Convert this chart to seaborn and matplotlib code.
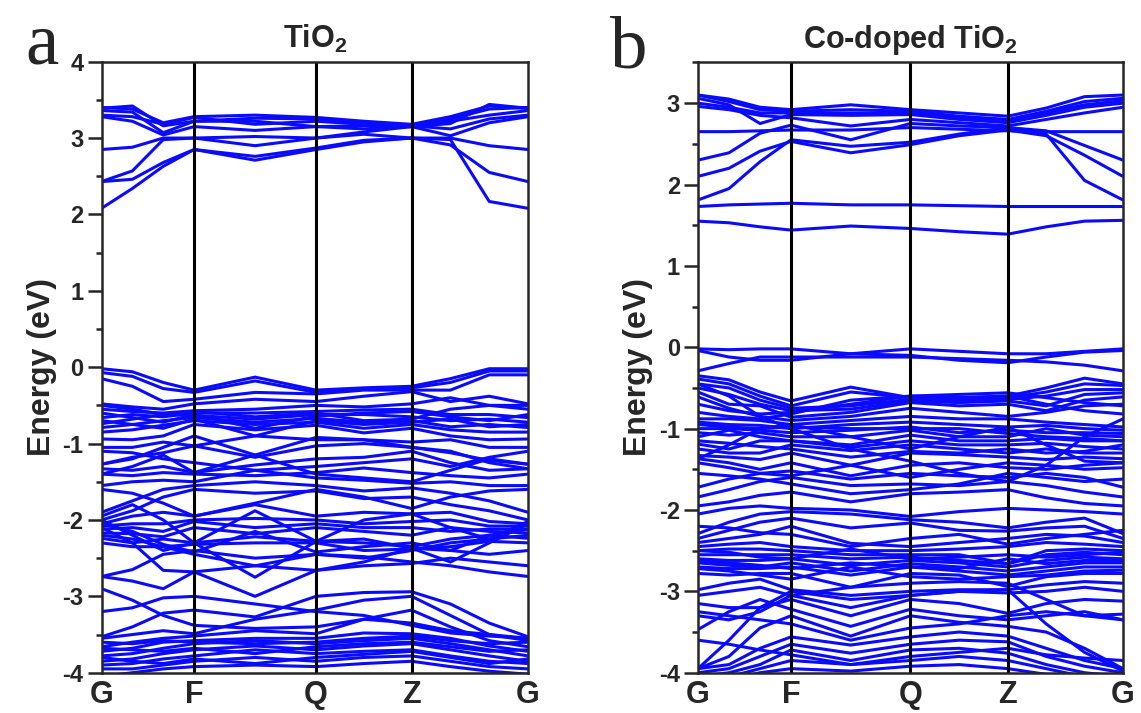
import numpy as np
import pandas as pd
import matplotlib
matplotlib.use("Agg")
import matplotlib.pyplot as plt
from matplotlib.ticker import MultipleLocator
import seaborn as sns

# ---------------- data ----------------
kpoint_labels = ["G", "F", "Q", "Z", "G"]
hs_pos_a = [0.0, 0.217, 0.503, 0.727, 1.0]
hs_pos_b = [0.0, 0.219, 0.500, 0.729, 1.0]
seg_divisions = [3, 2, 2, 3]   # sampled points per segment (G-F, F-Q, Q-Z, Z-G)

# band energies (eV) at the 11 sampled k-points: G, ., ., F, ., Q, ., Z, ., ., G
tio2_conduction = [
    [2.08, 2.34, 2.63, 2.85, 2.71, 2.85, 2.95, 3.00, 2.98, 2.17, 2.08],
    [2.43, 2.46, 2.68, 2.85, 2.76, 2.87, 2.97, 3.00, 2.91, 2.55, 2.43],
    [2.43, 2.57, 2.98, 3.00, 2.90, 3.00, 3.05, 3.00, 3.00, 2.90, 2.85],
    [2.85, 2.88, 3.00, 3.00, 3.02, 3.00, 3.08, 3.15, 3.03, 3.20, 3.28],
    [3.28, 3.22, 3.04, 3.15, 3.10, 3.15, 3.12, 3.15, 3.19, 3.44, 3.39],
    [3.36, 3.34, 3.07, 3.22, 3.22, 3.15, 3.16, 3.15, 3.22, 3.30, 3.36],
    [3.39, 3.42, 3.16, 3.22, 3.26, 3.25, 3.20, 3.17, 3.25, 3.38, 3.40],
    [3.40, 3.38, 3.20, 3.28, 3.30, 3.27, 3.22, 3.18, 3.28, 3.42, 3.39],
    [3.30, 3.28, 3.18, 3.27, 3.18, 3.22, 3.18, 3.16, 3.12, 3.25, 3.30],
]
tio2_valence = [
    [-0.02, -0.06, -0.20, -0.30, -0.13, -0.30, -0.27, -0.25, -0.15, -0.02, -0.02],
    [-0.07, -0.12, -0.28, -0.33, -0.18, -0.33, -0.28, -0.27, -0.20, -0.05, -0.05],
    [-0.15, -0.25, -0.45, -0.42, -0.33, -0.35, -0.30, -0.30, -0.30, -0.10, -0.10],
    [-0.48, -0.52, -0.55, -0.48, -0.42, -0.45, -0.38, -0.32, -0.45, -0.38, -0.48],
    [-0.55, -0.58, -0.60, -0.57, -0.55, -0.50, -0.52, -0.48, -0.40, -0.50, -0.55],
    [-0.66, -0.62, -0.65, -0.60, -0.60, -0.58, -0.56, -0.55, -0.62, -0.62, -0.66],
    [-0.74, -0.68, -0.62, -0.63, -0.68, -0.62, -0.62, -0.65, -0.70, -0.68, -0.72],
    [-0.79, -0.75, -0.70, -0.66, -0.72, -0.67, -0.72, -0.70, -0.78, -0.75, -0.79],
    [-0.85, -0.82, -0.76, -0.70, -0.75, -0.72, -0.80, -0.75, -0.82, -0.85, -0.85],
    [-0.94, -0.95, -0.90, -0.75, -0.82, -0.76, -0.86, -0.80, -0.90, -0.95, -0.94],
    [-1.05, -1.05, -0.98, -1.03, -0.90, -0.95, -0.95, -0.98, -0.95, -1.05, -1.05],
    [-1.27, -1.18, -1.12, -1.03, -1.18, -1.03, -1.00, -1.05, -1.12, -1.22, -1.27],
    [-1.33, -1.35, -1.30, -1.38, -1.28, -1.20, -1.18, -1.10, -1.25, -1.35, -1.33],
    [-1.40, -1.42, -1.38, -1.40, -1.42, -1.38, -1.32, -1.38, -1.42, -1.45, -1.40],
    [-1.55, -1.50, -1.48, -1.50, -1.35, -1.45, -1.48, -1.52, -1.50, -1.55, -1.55],
    [-1.90, -1.75, -1.60, -1.55, -1.50, -1.55, -1.62, -1.58, -1.65, -1.75, -1.90],
    [-2.00, -1.88, -1.70, -1.60, -1.65, -1.62, -1.72, -1.70, -1.80, -1.88, -2.00],
    [-2.05, -1.95, -1.90, -1.95, -1.80, -1.95, -1.90, -1.92, -1.90, -2.02, -2.05],
    [-2.08, -2.05, -2.05, -2.00, -1.98, -2.00, -2.05, -2.02, -2.00, -2.08, -2.08],
    [-2.12, -2.10, -2.15, -2.02, -2.10, -2.05, -2.10, -2.10, -2.15, -2.12, -2.12],
    [-2.17, -2.18, -2.22, -2.10, -2.18, -2.10, -2.15, -2.20, -2.10, -2.15, -2.17],
    [-2.24, -2.30, -2.25, -2.30, -2.22, -2.28, -2.30, -2.35, -2.25, -2.20, -2.24],
    [-2.30, -2.35, -2.35, -2.32, -2.30, -2.30, -2.40, -2.38, -2.35, -2.28, -2.30],
    [-2.74, -2.65, -2.45, -2.40, -2.50, -2.45, -2.48, -2.55, -2.60, -2.68, -2.74],
    [-2.74, -2.80, -2.90, -2.68, -2.60, -2.66, -2.60, -2.57, -2.50, -2.55, -2.60],
    [-3.53, -3.40, -3.22, -3.18, -3.27, -3.00, -2.95, -2.94, -3.10, -3.35, -3.53],
    [-3.55, -3.50, -3.45, -3.49, -3.30, -3.18, -3.05, -3.00, -3.25, -3.50, -3.55],
    [-3.66, -3.60, -3.55, -3.52, -3.45, -3.49, -3.30, -3.18, -3.40, -3.58, -3.66],
    [-3.72, -3.68, -3.60, -3.58, -3.55, -3.55, -3.48, -3.49, -3.55, -3.65, -3.72],
    [-3.78, -3.75, -3.68, -3.62, -3.58, -3.62, -3.58, -3.55, -3.62, -3.70, -3.78],
    [-3.85, -3.82, -3.75, -3.70, -3.65, -3.70, -3.65, -3.62, -3.70, -3.78, -3.85],
    [-3.90, -3.88, -3.82, -3.78, -3.70, -3.75, -3.72, -3.70, -3.78, -3.85, -3.88],
    [-3.95, -3.95, -3.90, -3.85, -3.80, -3.85, -3.80, -3.78, -3.85, -3.92, -3.95],
    [-4.05, -4.00, -3.95, -3.92, -3.90, -3.92, -3.88, -3.85, -3.92, -3.98, -4.02],
    [-2.10, -2.30, -2.66, -2.68, -3.00, -2.66, -2.55, -2.37, -2.40, -2.20, -2.12],
    [-2.00, -2.20, -2.40, -2.30, -2.75, -2.28, -2.25, -2.37, -2.55, -2.30, -2.05],
    [-1.95, -1.80, -2.00, -2.30, -1.88, -2.28, -2.00, -1.92, -2.10, -2.25, -2.02],
    [-1.27, -1.20, -1.05, -0.90, -1.15, -1.40, -1.45, -1.50, -1.35, -1.20, -1.27],
    [-1.40, -1.30, -1.15, -1.38, -1.15, -0.92, -0.95, -1.05, -1.10, -1.25, -1.33],
    [-0.50, -0.55, -0.62, -0.58, -0.65, -0.60, -0.70, -0.68, -0.55, -0.50, -0.50],
    [-0.60, -0.66, -0.72, -0.62, -0.80, -0.64, -0.60, -0.58, -0.65, -0.70, -0.62],
    [-0.70, -0.75, -0.80, -0.68, -0.90, -0.70, -0.75, -0.72, -0.68, -0.78, -0.75],
    [-1.10, -1.12, -1.20, -1.25, -1.35, -1.30, -1.25, -1.20, -1.30, -1.18, -1.10],
    [-1.60, -1.65, -1.78, -1.95, -1.78, -1.60, -1.70, -1.85, -1.70, -1.62, -1.60],
    [-2.20, -2.25, -2.35, -2.45, -2.60, -2.45, -2.50, -2.40, -2.30, -2.25, -2.20],
    [-2.05, -2.15, -2.32, -2.42, -2.15, -2.42, -2.35, -2.30, -2.40, -2.45, -2.40],
    [-3.60, -3.62, -3.58, -3.60, -3.62, -3.60, -3.55, -3.52, -3.58, -3.62, -3.60],
    [-3.68, -3.70, -3.72, -3.68, -3.75, -3.66, -3.62, -3.60, -3.66, -3.72, -3.70],
    [-3.80, -3.85, -3.88, -3.82, -3.88, -3.80, -3.76, -3.72, -3.80, -3.88, -3.82],
    [-2.90, -3.05, -3.25, -3.38, -3.42, -3.40, -3.30, -3.35, -3.45, -3.50, -3.58],
    [-3.20, -3.15, -3.02, -3.00, -3.10, -3.20, -3.25, -3.38, -3.48, -3.52, -3.55],
]

codoped_conduction = [
    [1.55, 1.53, 1.48, 1.44, 1.49, 1.46, 1.42, 1.39, 1.48, 1.55, 1.56],
    [1.73, 1.75, 1.76, 1.77, 1.75, 1.75, 1.74, 1.73, 1.73, 1.73, 1.73],
    [1.81, 1.95, 2.28, 2.55, 2.47, 2.52, 2.62, 2.70, 2.62, 2.05, 1.81],
    [2.10, 2.20, 2.41, 2.53, 2.39, 2.49, 2.60, 2.67, 2.60, 2.36, 2.10],
    [2.30, 2.39, 2.63, 2.73, 2.55, 2.75, 2.72, 2.70, 2.66, 2.48, 2.30],
    [2.65, 2.65, 2.66, 2.67, 2.67, 2.70, 2.68, 2.66, 2.65, 2.65, 2.65],
    [2.96, 2.92, 2.85, 2.82, 2.72, 2.80, 2.76, 2.72, 2.80, 2.88, 2.95],
    [3.06, 2.98, 2.75, 2.86, 2.85, 2.86, 2.80, 2.76, 2.85, 2.95, 3.00],
    [3.10, 3.02, 2.92, 2.90, 2.92, 2.90, 2.84, 2.80, 2.90, 3.02, 3.06],
    [3.10, 3.05, 2.95, 2.92, 2.98, 2.92, 2.88, 2.84, 2.94, 3.08, 3.10],
    [3.00, 2.95, 2.88, 2.88, 2.88, 2.88, 2.82, 2.78, 2.88, 2.98, 3.03],
]
codoped_valence = [
    [-0.02, -0.03, -0.02, -0.02, -0.08, -0.02, -0.05, -0.08, -0.08, -0.05, -0.02],
    [-0.04, -0.12, -0.16, -0.16, -0.08, -0.10, -0.16, -0.19, -0.12, -0.06, -0.04],
    [-0.29, -0.20, -0.12, -0.12, -0.12, -0.12, -0.14, -0.16, -0.18, -0.22, -0.29],
    [-0.35, -0.40, -0.55, -0.66, -0.49, -0.62, -0.62, -0.60, -0.50, -0.38, -0.45],
    [-0.39, -0.45, -0.60, -0.72, -0.55, -0.62, -0.64, -0.62, -0.55, -0.45, -0.47],
    [-0.45, -0.50, -0.65, -0.75, -0.72, -0.64, -0.66, -0.64, -0.60, -0.52, -0.52],
    [-0.50, -0.58, -0.70, -0.78, -0.76, -0.66, -0.68, -0.66, -0.72, -0.58, -0.56],
    [-0.55, -0.70, -0.72, -0.86, -0.80, -0.68, -0.72, -0.70, -0.78, -0.65, -0.61],
    [-0.61, -0.75, -0.85, -0.90, -0.85, -0.75, -0.80, -0.85, -0.80, -0.72, -0.70],
    [-0.88, -0.88, -0.90, -0.95, -0.90, -0.85, -0.88, -0.88, -0.92, -0.95, -0.98],
    [-0.92, -0.95, -0.96, -1.00, -0.95, -0.92, -0.95, -0.98, -0.96, -1.00, -1.02],
    [-1.00, -1.00, -1.02, -1.05, -1.02, -0.98, -1.05, -1.02, -1.05, -1.05, -1.06],
    [-1.05, -1.08, -1.05, -1.10, -1.10, -1.02, -1.10, -1.10, -1.00, -1.08, -1.10],
    [-1.10, -1.02, -1.10, -1.15, -1.20, -1.08, -1.15, -1.15, -1.12, -1.15, -1.15],
    [-1.19, -1.25, -1.15, -1.15, -1.23, -1.15, -1.20, -1.20, -1.18, -1.22, -1.25],
    [-1.25, -1.30, -1.30, -1.20, -1.27, -1.20, -1.25, -1.30, -1.25, -1.30, -1.30],
    [-1.33, -1.35, -1.38, -1.30, -1.45, -1.30, -1.32, -1.35, -1.38, -1.35, -1.37],
    [-1.37, -1.42, -1.50, -1.42, -1.58, -1.45, -1.42, -1.48, -1.50, -1.45, -1.42],
    [-1.72, -1.62, -1.55, -1.52, -1.62, -1.55, -1.58, -1.60, -1.55, -1.60, -1.72],
    [-1.84, -1.75, -1.65, -1.60, -1.70, -1.68, -1.70, -1.65, -1.70, -1.78, -1.84],
    [-1.95, -1.90, -1.82, -1.78, -1.90, -1.80, -1.78, -1.75, -1.85, -1.92, -1.95],
    [-2.05, -1.98, -1.95, -1.98, -2.00, -2.08, -2.02, -1.98, -2.00, -2.02, -2.05],
    [-2.29, -2.15, -2.05, -2.02, -2.05, -2.12, -2.15, -2.22, -2.15, -2.10, -2.29],
    [-2.35, -2.25, -2.15, -2.10, -2.22, -2.16, -2.25, -2.26, -2.22, -2.20, -2.35],
    [-2.40, -2.35, -2.30, -2.20, -2.41, -2.45, -2.40, -2.35, -2.30, -2.32, -2.40],
    [-2.45, -2.42, -2.40, -2.45, -2.50, -2.50, -2.48, -2.45, -2.40, -2.42, -2.45],
    [-2.50, -2.48, -2.48, -2.50, -2.55, -2.55, -2.55, -2.66, -2.50, -2.48, -2.50],
    [-2.55, -2.55, -2.55, -2.55, -2.60, -2.58, -2.62, -2.66, -2.55, -2.52, -2.55],
    [-2.60, -2.62, -2.62, -2.60, -2.68, -2.62, -2.65, -2.70, -2.62, -2.58, -2.60],
    [-2.65, -2.68, -2.70, -2.65, -2.75, -2.66, -2.70, -2.75, -2.70, -2.65, -2.65],
    [-2.70, -2.72, -2.72, -2.70, -2.80, -2.70, -2.75, -2.80, -2.75, -2.70, -2.70],
    [-2.78, -2.80, -2.78, -2.78, -2.95, -2.78, -2.80, -2.94, -2.82, -2.78, -2.78],
    [-2.98, -2.90, -2.85, -2.98, -3.05, -3.00, -2.98, -2.98, -2.92, -2.88, -2.90],
    [-3.05, -3.00, -2.95, -3.05, -3.20, -3.05, -3.00, -3.02, -3.00, -2.95, -3.00],
    [-3.15, -3.20, -3.20, -3.10, -3.30, -3.10, -3.15, -3.27, -3.15, -3.10, -3.12],
    [-3.47, -3.25, -3.10, -3.22, -3.43, -3.22, -3.30, -3.35, -3.30, -3.25, -3.35],
    [-3.95, -3.80, -3.45, -3.30, -3.55, -3.30, -3.38, -3.43, -3.50, -3.70, -3.95],
    [-3.95, -3.90, -3.70, -3.56, -3.66, -3.56, -3.50, -3.55, -3.70, -3.85, -3.95],
    [-4.00, -3.95, -3.80, -3.65, -3.76, -3.65, -3.60, -3.62, -3.80, -3.92, -4.00],
    [-4.05, -4.00, -3.90, -3.72, -3.85, -3.72, -3.70, -3.76, -3.90, -4.00, -4.05],
    [-4.10, -4.05, -3.95, -3.85, -3.90, -3.85, -3.80, -3.85, -3.95, -4.05, -4.10],
    [-4.15, -4.10, -4.00, -3.95, -3.98, -3.92, -3.90, -3.95, -4.02, -4.10, -4.15],
    [-0.45, -0.60, -0.85, -1.00, -1.25, -1.40, -1.55, -1.65, -1.45, -1.10, -0.88],
    [-1.37, -1.20, -1.00, -0.95, -1.10, -1.25, -1.10, -0.98, -1.20, -1.40, -1.42],
    [-3.95, -3.60, -3.20, -3.00, -3.10, -3.05, -3.00, -2.98, -3.40, -3.75, -3.98],
    [-3.30, -3.35, -3.25, -3.05, -2.95, -2.90, -2.88, -2.90, -3.10, -3.30, -3.35],
    [-0.70, -0.78, -0.82, -0.80, -0.70, -0.60, -0.58, -0.56, -0.62, -0.68, -0.72],
    [-0.80, -0.85, -0.88, -0.82, -0.65, -0.60, -0.62, -0.60, -0.70, -0.78, -0.82],
    [-0.95, -0.98, -1.00, -0.98, -1.00, -1.00, -1.00, -1.06, -1.10, -1.12, -1.15],
    [-1.15, -1.18, -1.22, -1.25, -1.35, -1.28, -1.30, -1.25, -1.30, -1.28, -1.20],
    [-1.42, -1.48, -1.55, -1.58, -1.45, -1.60, -1.50, -1.42, -1.45, -1.50, -1.48],
    [-1.55, -1.58, -1.62, -1.68, -1.80, -1.75, -1.68, -1.55, -1.60, -1.65, -1.62],
    [-2.20, -2.22, -2.28, -2.30, -2.45, -2.35, -2.30, -2.42, -2.35, -2.30, -2.25],
    [-2.50, -2.52, -2.58, -2.60, -2.48, -2.60, -2.58, -2.55, -2.58, -2.55, -2.52],
    [-2.62, -2.65, -2.68, -2.72, -2.65, -2.70, -2.72, -2.60, -2.66, -2.62, -2.62],
    [-2.72, -2.75, -2.80, -2.85, -2.70, -2.82, -2.85, -2.82, -2.80, -2.75, -2.74],
    [-3.25, -3.30, -3.35, -3.40, -3.60, -3.45, -3.40, -3.30, -3.25, -3.30, -3.28],
    [-3.60, -3.65, -3.72, -3.78, -3.90, -3.80, -3.75, -3.70, -3.78, -3.82, -3.85],
]

panel_titles = [r"TiO$_\mathbf{2}$", r"Co-doped TiO$_\mathbf{2}$"]
panel_letters = ["a", "b"]


def k_grid(hs_pos):
    pts = [hs_pos[0]]
    for i, n in enumerate(seg_divisions):
        a, b = hs_pos[i], hs_pos[i + 1]
        for j in range(1, n + 1):
            pts.append(a + (b - a) * j / n)
    return np.array(pts)


def bands_frame(bands, kg):
    rows = []
    for bi, band in enumerate(bands):
        for kk, e in zip(kg, band):
            rows.append((bi, kk, e))
    return pd.DataFrame(rows, columns=["band", "k", "E"])


# ---------------- style ----------------
sns.set_style("ticks")
plt.rcParams["font.family"] = ["Liberation Sans", "DejaVu Sans"]
plt.rcParams["font.weight"] = "bold"
plt.rcParams["mathtext.fontset"] = "custom"
plt.rcParams["mathtext.rm"] = "Liberation Sans:bold"
plt.rcParams["mathtext.bf"] = "Liberation Sans:bold"

fig = plt.figure(figsize=(11.41, 7.13), dpi=100)
ax_a = fig.add_axes([0.089, 0.0565, 0.3738, 0.857])
ax_b = fig.add_axes([0.6117, 0.0565, 0.3725, 0.857])

panels = [
    (ax_a, hs_pos_a, tio2_conduction + tio2_valence, (-4, 4), range(-4, 5)),
    (ax_b, hs_pos_b, codoped_conduction + codoped_valence, (-4, 3.51), range(-4, 4)),
]

band_color = "#0a0aff"
for idx, (ax, hs, bands, ylim, yticks) in enumerate(panels):
    kg = k_grid(hs)
    df = bands_frame(bands, kg)
    sns.lineplot(data=df, x="k", y="E", units="band", estimator=None,
                 color=band_color, lw=2.2, sort=False, legend=False, ax=ax)
    for x in hs[1:-1]:
        ax.axvline(x, color="black", lw=2.2, zorder=3)
    ax.set_xlim(0, 1)
    ax.set_ylim(*ylim)
    ax.set_xticks(hs)
    ax.set_xticklabels(kpoint_labels, fontsize=22, fontweight="bold")
    ax.tick_params(axis="x", length=0, pad=5)
    ax.set_yticks(list(yticks))
    ax.set_yticklabels([str(v) for v in yticks], fontsize=17, fontweight="bold")
    ax.yaxis.set_minor_locator(MultipleLocator(0.5))
    ax.tick_params(axis="y", which="major", length=10, width=1.8, direction="out", pad=3)
    ax.tick_params(axis="y", which="minor", length=4.5, width=1.8, direction="out")
    ax.set_xlabel("")
    ax.set_ylabel("Energy (eV)", fontsize=23, fontweight="bold", labelpad=4)
    for s in ax.spines.values():
        s.set_linewidth(1.8)
        s.set_visible(True)
        s.set_zorder(4)
    ax.set_title(panel_titles[idx], fontsize=22, fontweight="bold", pad=10)

fig.text(25 / 1141, 1 - 63 / 713, panel_letters[0], family="Liberation Serif",
         fontsize=54, fontweight="normal", va="baseline", ha="left")
fig.text(610 / 1141, 1 - 67 / 713, panel_letters[1], family="Liberation Serif",
         fontsize=54, fontweight="normal", va="baseline", ha="left")

fig.savefig("out.png", dpi=100)
